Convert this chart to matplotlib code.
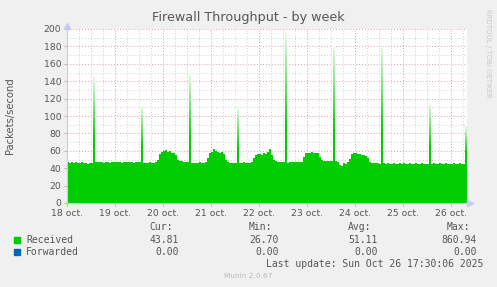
import numpy as np
import matplotlib.pyplot as plt
from matplotlib.colors import LinearSegmentedColormap

# hourly averages, hour 0 = 18 oct 00:00
received = [
    # 18 oct
    47, 46, 47, 46, 47, 46, 46, 47, 46, 46, 45, 46, 46, 145, 47, 47, 47, 47, 46, 47, 47, 46, 47, 47,
    # 19 oct
    47, 47, 47, 46, 47, 47, 47, 47, 47, 46, 47, 47, 47, 110, 46, 46, 46, 47, 46, 46, 47, 50, 56, 59,
    # 20 oct
    60, 61, 59, 60, 58, 58, 55, 50, 48, 48, 47, 47, 47, 147, 46, 46, 46, 46, 47, 46, 46, 47, 52, 57,
    # 21 oct
    59, 62, 60, 59, 58, 59, 56, 49, 47, 46, 46, 46, 46, 109, 46, 46, 47, 46, 46, 46, 47, 52, 55, 56,
    # 22 oct
    56, 55, 57, 56, 59, 62, 55, 50, 48, 47, 47, 47, 47, 195, 46, 47, 47, 47, 47, 47, 47, 47, 53, 57,
    # 23 oct
    58, 58, 59, 58, 57, 58, 53, 50, 48, 48, 48, 48, 48, 179, 48, 47, 44, 43, 46, 45, 47, 51, 56, 58,
    # 24 oct
    57, 56, 56, 55, 55, 54, 52, 47, 46, 46, 46, 46, 45, 180, 46, 45, 46, 45, 45, 46, 45, 45, 46, 45,
    # 25 oct
    46, 45, 45, 46, 45, 45, 46, 45, 45, 46, 45, 45, 45, 113, 45, 46, 45, 45, 46, 45, 45, 46, 45, 45,
    # 26 oct
    45, 46, 45, 45, 46, 45, 45, 88,
]
forwarded = [0] * len(received)

day_labels = ['18 oct.', '19 oct.', '20 oct.', '21 oct.', '22 oct.',
              '23 oct.', '24 oct.', '25 oct.', '26 oct.']
y_ticks = [0, 20, 40, 60, 80, 100, 120, 140, 160, 180, 200]

legend_names = ['Received', 'Forwarded']
legend_colors = ['#00CC00', '#0066B3']
cur = ['43.81', '0.00']
vmin = ['26.70', '0.00']
vavg = ['51.11', '0.00']
vmax = ['860.94', '0.00']

W, H = 497, 287
fig = plt.figure(figsize=(W / 100, H / 100), dpi=100, facecolor='#F0F0F0')
ax = fig.add_axes([67 / W, (H - 203) / H, 400 / W, 174 / H])
ax.set_facecolor('white')

hours = np.arange(len(received) + 1)
rec = np.array(received + [received[-1]], dtype=float)
ax.fill_between(hours, 0, rec, step='post', color='#00CC00', lw=0, zorder=2)
ax.fill_between(hours, 0, np.array(forwarded + [0]), step='post',
                color='#0066B3', lw=0, zorder=2)

# spikes fade out towards the top in the reference
fade = LinearSegmentedColormap.from_list('fade', [(1, 1, 1, 0), (1, 1, 1, 0.9)])
grad = np.linspace(0, 1, 50).reshape(-1, 1)
for i, v in enumerate(received):
    if v > 80:
        lo = 47 + (v - 47) * 0.25
        ax.imshow(grad, extent=[i, i + 1, lo, v], origin='lower', aspect='auto',
                  cmap=fade, zorder=3, interpolation='bilinear')

ax.set_xlim(0, 200)
ax.set_ylim(0, 200)

# grid
for x in range(0, 201, 6):
    major = x % 24 == 0
    ax.axvline(x, color='#E0A0A0' if major else '#D0D0D0', lw=0.7,
               ls=(0, (1, 2)), zorder=1)
for y in range(10, 201, 10):
    major = y % 20 == 0
    ax.axhline(y, color='#E0A0A0' if major else '#D0D0D0', lw=0.7,
               ls=(0, (1, 2)), zorder=1)

ax.set_xticks(range(0, 200, 24))
ax.set_xticklabels(day_labels)
ax.set_yticks(y_ticks)
ax.set_yticklabels([str(t) for t in y_ticks])
ax.tick_params(axis='both', labelsize=6.7, labelcolor='#555555', colors='#E0A0A0',
               length=2, width=0.7, pad=2)
for s in ax.spines.values():
    s.set_visible(False)
ax.plot([0, 0], [0, 200], color='#C8C8F0', lw=0.8, zorder=4, clip_on=False)
ax.plot([0, 200], [0, 0], color='#C8C8F0', lw=0.8, zorder=4, clip_on=False)
ax.plot(0, 203, marker='^', color='#C8C8F0', ms=4, clip_on=False, zorder=4)
ax.plot(201.5, 0, marker='>', color='#C8C8F0', ms=4, clip_on=False, zorder=4)


def px(x, y):
    return x / W, 1 - y / H


fig.text(*px(248, 18), 'Firewall Throughput - by week', ha='center', va='center',
         fontsize=9.2, color='#555555')
fig.text(*px(10, 116), 'Packets/second', ha='center', va='center', rotation=90,
         fontsize=7.2, color='#555555')
fig.text(*px(488, 53), 'RRDTOOL / TOBI OETIKER', ha='center', va='center',
         rotation=270, fontsize=5, color='#C8C8C8')

mono = 'DejaVu Sans Mono'
fs = 7
for label, x in [('Cur:', 149), ('Min:', 249), ('Avg:', 348), ('Max:', 447)]:
    fig.text(*px(x, 227), label, ha='left', va='center', family=mono,
             fontsize=fs, color='#555555')
rows_y = [240, 252]
for i, name in enumerate(legend_names):
    y = rows_y[i]
    fig.patches.append(plt.Rectangle(px(14, y + 3), 6 / W, 6 / H,
                                     transform=fig.transFigure, color=legend_colors[i]))
    fig.text(*px(26, y), name, ha='left', va='center', family=mono,
             fontsize=fs, color='#555555')
    for val, x in [(cur[i], 179), (vmin[i], 279), (vavg[i], 378), (vmax[i], 477)]:
        fig.text(*px(x, y), val, ha='right', va='center', family=mono,
                 fontsize=fs, color='#555555')
fig.text(*px(483, 264), 'Last update: Sun Oct 26 17:30:06 2025', ha='right',
         va='center', family=mono, fontsize=fs, color='#555555')
fig.text(*px(248, 276), 'Munin 2.0.67', ha='center', va='center',
         fontsize=5.3, color='#BBBBBB')

fig.savefig('out.png', dpi=100, facecolor=fig.get_facecolor())
